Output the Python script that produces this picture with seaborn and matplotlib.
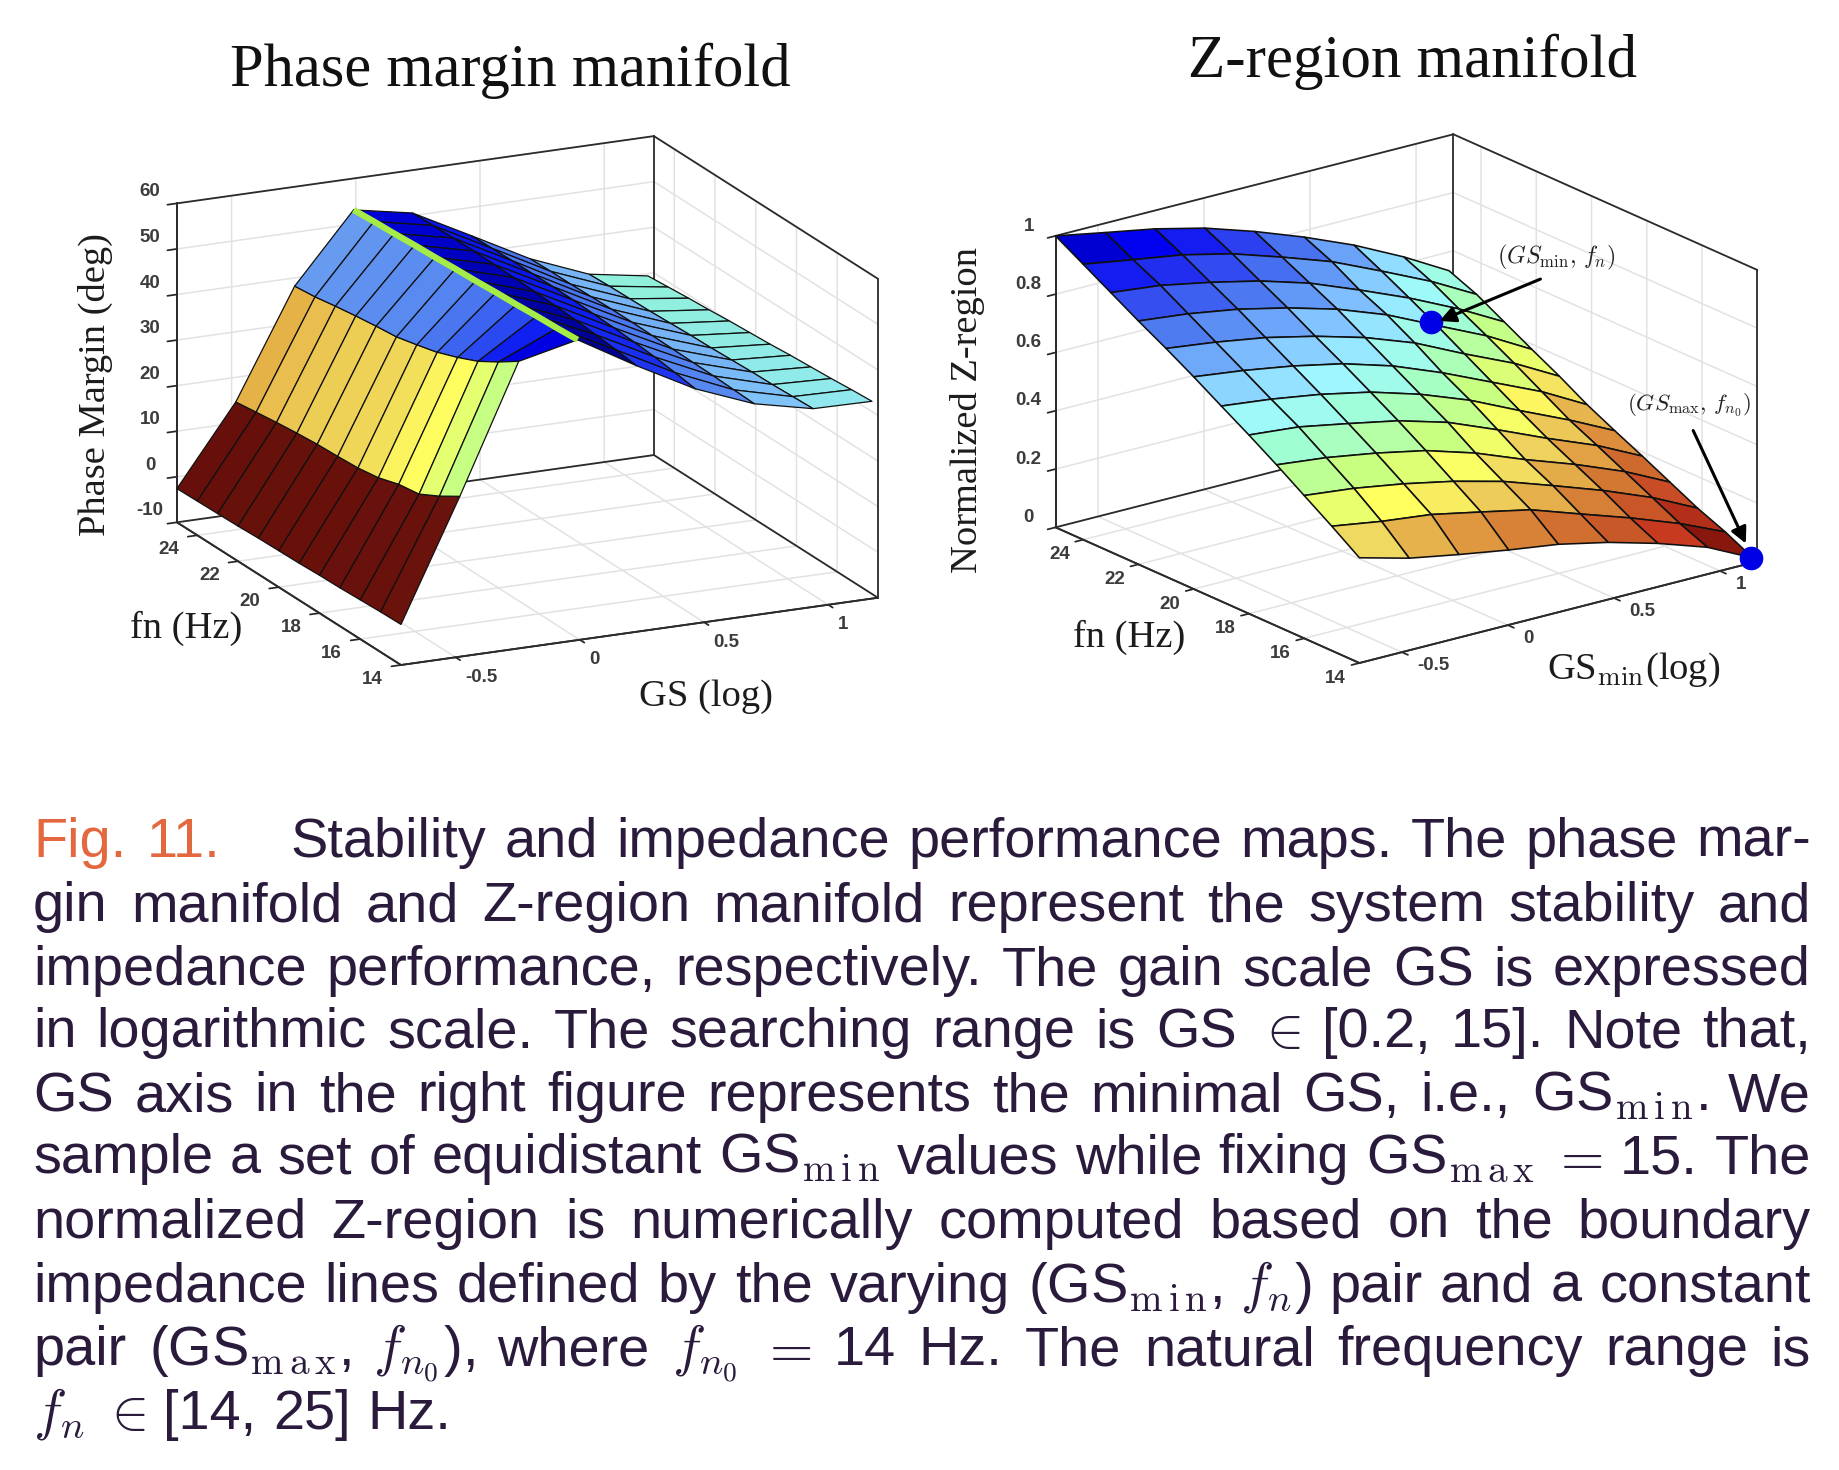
import numpy as np
import matplotlib
matplotlib.use("Agg")
import matplotlib.pyplot as plt
from matplotlib.colors import LinearSegmentedColormap, Normalize
from matplotlib.patches import FancyArrowPatch
from mpl_toolkits.mplot3d import proj3d
import seaborn as sns

sns.set_theme(style="white")
plt.rcParams["mathtext.fontset"] = "cm"

SERIF = "Liberation Serif"
SANS = "Liberation Sans"

fn_samples = [14, 15, 16, 17, 18, 19, 20, 21, 22, 23, 24, 25]
gs_left = [-0.72, -0.483, -0.246, -0.009, 0.228, 0.465, 0.702, 0.939, 1.176]
gs_right = [-0.70, -0.4655, -0.231, 0.0035, 0.238, 0.4725, 0.707, 0.9415, 1.155]

# Phase margin (deg): one row per fn, one column per GS sample
pm_f14 = [-1.1, 25.2, 53.0, 55.9, 48.4, 41.5, 36.4, 33.5, 33.3]
pm_f15 = [-1.2, 22.4, 50.0, 55.6, 49.0, 42.2, 36.6, 33.3, 33.0]
pm_f16 = [-1.4, 20.0, 47.3, 55.4, 49.5, 42.8, 36.8, 33.1, 32.6]
pm_f17 = [-1.6, 19.3, 45.3, 55.1, 49.9, 43.2, 36.9, 33.0, 32.3]
pm_f18 = [-1.7, 17.9, 43.6, 54.9, 50.2, 43.5, 37.0, 32.8, 32.0]
pm_f19 = [-1.9, 17.2, 42.4, 54.6, 50.4, 43.7, 37.1, 32.6, 31.6]
pm_f20 = [-2.0, 16.9, 41.3, 54.4, 50.6, 43.9, 37.2, 32.5, 31.3]
pm_f21 = [-2.1, 16.7, 40.8, 54.1, 50.7, 44.0, 37.2, 32.3, 31.0]
pm_f22 = [-2.3, 16.3, 40.2, 53.9, 50.8, 44.0, 37.1, 32.1, 30.6]
pm_f23 = [-2.4, 15.8, 39.5, 53.6, 50.8, 44.0, 37.0, 32.0, 30.3]
pm_f24 = [-2.5, 15.2, 38.7, 53.4, 50.7, 43.9, 37.0, 31.9, 29.9]
pm_f25 = [-2.6, 14.6, 38.2, 53.1, 50.6, 43.8, 36.9, 31.7, 29.5]

# Normalized Z-region
zr_f14 = [.361, .316, .285, .257, .233, .196, .149, .092, .016]
zr_f15 = [.427, .400, .380, .345, .309, .251, .194, .131, .063]
zr_f16 = [.490, .471, .443, .408, .364, .306, .246, .178, .102]
zr_f17 = [.553, .534, .506, .471, .419, .353, .293, .225, .149]
zr_f18 = [.613, .597, .565, .531, .482, .413, .340, .272, .196]
zr_f19 = [.670, .650, .623, .587, .536, .472, .393, .317, .241]
zr_f20 = [.728, .706, .678, .642, .591, .524, .448, .372, .288]
zr_f21 = [.783, .761, .733, .694, .646, .584, .503, .427, .343]
zr_f22 = [.835, .816, .788, .749, .701, .638, .558, .479, .393]
zr_f23 = [.890, .871, .838, .799, .748, .681, .610, .529, .445]
zr_f24 = [.945, .917, .890, .850, .795, .736, .660, .581, .497]
zr_f25 = [1.00, .968, .937, .896, .841, .778, .707, .623, .536]

pm_rows = [pm_f14, pm_f15, pm_f16, pm_f17, pm_f18, pm_f19, pm_f20, pm_f21, pm_f22, pm_f23, pm_f24, pm_f25]
zr_rows = [zr_f14, zr_f15, zr_f16, zr_f17, zr_f18, zr_f19, zr_f20, zr_f21, zr_f22, zr_f23, zr_f24, zr_f25]

# the two operating points marked on the Z-region manifold
point_gs = [0.707, 1.145]
point_fn = [22.2, 14.0]
point_z = [0.561, 0.018]

left_stops = [(-3, "#66100A"), (2, "#701510"), (8, "#C04020"), (14, "#E0A040"), (17, "#EFD458"),
              (20, "#FFFF60"), (25, "#C8FF80"), (31, "#90F5D0"), (35, "#90E0FF"), (38, "#6A9FF0"),
              (43, "#5080F0"), (47, "#3050F0"), (50, "#1020F0"), (53, "#0000E0"), (56, "#000090")]
right_stops = [(0, "#7A140E"), (.09, "#88180E"), (.149, "#C83A20"), (.196, "#C85828"), (.233, "#D07030"),
               (.285, "#E09A40"), (.36, "#F0D860"), (.40, "#FFFF60"), (.47, "#C8FF80"), (.55, "#A0FFD0"),
               (.62, "#A0F8FF"), (.70, "#80C0FF"), (.78, "#5080F0"), (.86, "#2838F0"), (.92, "#0000F0"), (1, "#000090")]


def make_cmap(stops):
    lo, hi = stops[0][0], stops[-1][0]
    return LinearSegmentedColormap.from_list("m", [((v - lo) / (hi - lo), c) for v, c in stops]), Normalize(lo, hi)


def corners(ax, pts):
    ax.apply_aspect()
    M = ax.get_proj()
    out = []
    for p in pts:
        xs, ys, _ = proj3d.proj_transform(p[0], p[1], p[2], M)
        out.append(ax.transData.transform((xs, ys)))
    return np.array(out)


def place(ax, fig, aspect, front_px, right_px, front3, right3):
    W, H = fig.canvas.get_width_height()
    L = 800
    ax.set_position([0.1, 0.1, L / W, L / H])
    ax.set_box_aspect(aspect, zoom=1)
    c = corners(ax, [front3, right3])
    target = np.array([[front_px[0], H - front_px[1]], [right_px[0], H - right_px[1]]])
    z = np.linalg.norm(target[1] - target[0]) / np.linalg.norm(c[1] - c[0])
    ax.set_box_aspect(aspect, zoom=z)
    c = corners(ax, [front3, right3])
    d = target[0] - c[0]
    ax.set_position([0.1 + d[0] / W, 0.1 + d[1] / H, L / W, L / H])


def style_axes(ax, xlim, ylim, zlim, xt, yt, zt, ztl, xva, xpad):
    ax.set_proj_type("ortho")
    ax.computed_zorder = False
    ax.set_xlim(*xlim); ax.set_ylim(*ylim); ax.set_zlim(*zlim)
    ax.set_xticks(xt); ax.set_yticks(yt); ax.set_zticks(zt)
    ax.set_xticklabels([f"{v:g}" for v in xt])
    ax.set_yticklabels([f"{v:g}" for v in yt])
    ax.set_zticklabels(ztl)
    ax.tick_params(axis="x", pad=xpad)
    ax.tick_params(axis="y", pad=10)
    ax.patch.set_alpha(0)
    for a in (ax.xaxis, ax.yaxis, ax.zaxis):
        a.set_pane_color((1, 1, 1, 1))
        a.pane.set_edgecolor((1, 1, 1, 0))
        a.line.set_color("#2b2b2b")
        a.line.set_linewidth(1.3)
        a._axinfo["grid"].update(color="#e2e2e2", linewidth=1.1, linestyle="-")
        a._axinfo["tick"]["color"] = "#2b2b2b"
        a._axinfo["tick"]["outward_factor"] = 0.0
        a._axinfo["tick"]["inward_factor"] = 0.25
        for t in a.get_ticklabels():
            t.set_fontfamily(SANS); t.set_fontweight("bold"); t.set_fontsize(13.5); t.set_color("#3c3c3c")
    for t in ax.xaxis.get_ticklabels():
        t.set_ha("left"); t.set_va(xva)
    for t in ax.yaxis.get_ticklabels():
        t.set_ha("center"); t.set_va("bottom")
    for t in ax.zaxis.get_ticklabels():
        t.set_va("bottom")
    ax.grid(True)
    ax.zaxis.set_ticks_position("upper")
    x0, x1 = xlim; y0, y1 = ylim; z0, z1 = zlim
    edges = [((x0, y0, z0), (x1, y0, z0)), ((x0, y1, z0), (x1, y1, z0)), ((x0, y0, z0), (x0, y1, z0)),
             ((x1, y0, z0), (x1, y1, z0)), ((x0, y1, z0), (x0, y1, z1)), ((x1, y1, z0), (x1, y1, z1)),
             ((x1, y0, z0), (x1, y0, z1)), ((x0, y1, z1), (x1, y1, z1)), ((x1, y0, z1), (x1, y1, z1))]
    for a, b in edges:
        ax.plot([a[0], b[0]], [a[1], b[1]], [a[2], b[2]], color="#2b2b2b", lw=1.3, zorder=1)


fig = plt.figure(figsize=(18.4, 14.7), dpi=100)
fig.patch.set_facecolor("white")
H = 1470


def ftext(x, y, s, **kw):
    return fig.text(x / 1840, 1 - y / H, s, **kw)


# ---------- left manifold
ax1 = fig.add_subplot(121, projection="3d")
xl = (-0.72, 1.2); yl = (14, 25); zl = (-10, 60)
style_axes(ax1, xl, yl, zl, [-0.5, 0, 0.5, 1], [14, 16, 18, 20, 22, 24],
           [-10, 0, 10, 20, 30, 40, 50, 60], ["-10", "0", "10", "20", "30", "40", "50", "60"], "center", 5)
ax1.view_init(elev=17.44, azim=-115.2)
X, Y = np.meshgrid(gs_left, fn_samples)
Z = np.array(pm_rows)
cm1, nm1 = make_cmap(left_stops)
ax1.plot_surface(X, Y, Z, rstride=1, cstride=1, facecolors=cm1(nm1(Z)), shade=False,
                 edgecolor="#101010", linewidth=0.9, zorder=2)
ax1.plot(X[:, 3], Y[:, 3], Z[:, 3], color="#A6EC46", lw=4.5, zorder=5, solid_capstyle="butt")
place(ax1, fig, (529, 528, 335.5), (401, 665), (878, 598), (xl[0], yl[0], zl[0]), (xl[1], yl[0], zl[0]))

# ---------- right manifold
ax2 = fig.add_subplot(122, projection="3d")
xr = (-0.70, 1.176); zr = (0, 1)
style_axes(ax2, xr, yl, zr, [-0.5, 0, 0.5, 1], [14, 16, 18, 20, 22, 24],
           [0, .2, .4, .6, .8, 1], ["0", "0.2", "0.4", "0.6", "0.8", "1"], "bottom", 7.5)
ax2.view_init(elev=19.73, azim=-127.1)
X2, Y2 = np.meshgrid(gs_right, fn_samples)
Z2 = np.array(zr_rows)
cm2, nm2 = make_cmap(right_stops)
ax2.plot_surface(X2, Y2, Z2, rstride=1, cstride=1, facecolors=cm2(nm2(Z2)), shade=False,
                 edgecolor="#101010", linewidth=1.15, zorder=2)
ax2.plot(point_gs, point_fn, point_z, "o", color="#0000E6", ms=16, zorder=6)
place(ax2, fig, (501, 506, 311), (1359, 663), (1757, 562), (xr[0], yl[0], zr[0]), (xr[1], yl[0], zr[0]))

# ---------- titles and axis labels
ftext(510, 71, "Phase margin manifold", family=SERIF, fontsize=43.7, color="#111111", ha="center", va="center")
ftext(1413, 62, "Z-region manifold", family=SERIF, fontsize=43.9, color="#111111", ha="center", va="center")
lab = dict(family=SERIF, fontsize=27.7, color="#1c1c1c", ha="center", va="center")
ftext(95, 385, "Phase Margin (deg)", rotation=90, **lab)
ftext(186, 628, "fn (Hz)", **lab)
ftext(706, 697, "GS (log)", **lab)
ftext(968, 410, "Normalized Z-region", rotation=90, **lab)
ftext(1129, 637, "fn (Hz)", **lab)
ftext(1634, 670, "GS$_{\\mathrm{min}}$(log)", **lab)

# ---------- annotations
ftext(1556, 257, r"$(GS_{\mathrm{min}},\, f_n)$", fontsize=17.2, color="#222222", ha="center", va="center")
ftext(1689, 405, r"$(GS_{\mathrm{max}},\, f_{n_0})$", fontsize=16.6, color="#222222", ha="center", va="center")
for tail, tip in [((1543, 278), (1437, 322)), ((1692, 428), (1747, 546))]:
    fig.add_artist(FancyArrowPatch(
        (tail[0] / 1840, 1 - tail[1] / H), (tip[0] / 1840, 1 - tip[1] / H), transform=fig.transFigure,
        arrowstyle="-|>", mutation_scale=24, color="black", lw=2.2, zorder=10))

# ---------- caption
cap_lines = [
    "Stability and impedance performance maps. The phase mar-",
    "gin manifold and Z-region manifold represent the system stability and",
    "impedance performance, respectively. The gain scale GS is expressed",
    r"in logarithmic scale. The searching range is GS $\in$ [0.2, 15]. Note that,",
    r"GS axis in the right figure represents the minimal GS, i.e., GS$_{\mathrm{m\,i\,n}}$. We",
    r"sample a set of equidistant GS$_{\mathrm{m\,i\,n}}$ values while fixing GS$_{\mathrm{m\,a\,x}}$ $=$ 15. The",
    "normalized Z-region is numerically computed based on the boundary",
    r"impedance lines defined by the varying (GS$_{\mathrm{m\,i\,n}}$, $f_n$) pair and a constant",
    r"pair (GS$_{\mathrm{m\,a\,x}}$, $f_{n_0}$), where $f_{n_0}$ $=$ 14 Hz. The natural frequency range is",
    r"$f_n$ $\in$ [14, 25] Hz.",
]
baselines = [857, 921, 985, 1047, 1111, 1173, 1238, 1301.5, 1365, 1429]
CAP_SIZE = 40.2
cap = dict(family=SANS, fontsize=CAP_SIZE, color="#2A1B3D", va="baseline", ha="left")
fig.canvas.draw()
rend = fig.canvas.get_renderer()
ftext(33, baselines[0], "Fig.", family=SANS, fontsize=CAP_SIZE, color="#E4683F", va="baseline", ha="left")
ftext(147, baselines[0], "11.", family=SANS, fontsize=CAP_SIZE, color="#E4683F", va="baseline", ha="left")
for i, (line, yb) in enumerate(zip(cap_lines, baselines)):
    words = line.split(" ")
    arts = [ftext(0, yb, w, **cap) for w in words]
    widths = [a.get_window_extent(rend).width for a in arts]
    x0 = 290 if i == 0 else 33
    if i == len(cap_lines) - 1:
        gap = 17
    else:
        gap = (1811 - x0 - sum(widths)) / (len(words) - 1)
    x = x0
    for a, w in zip(arts, widths):
        a.set_x(x / 1840)
        x += w + gap

fig.savefig("out.png", dpi=100)
